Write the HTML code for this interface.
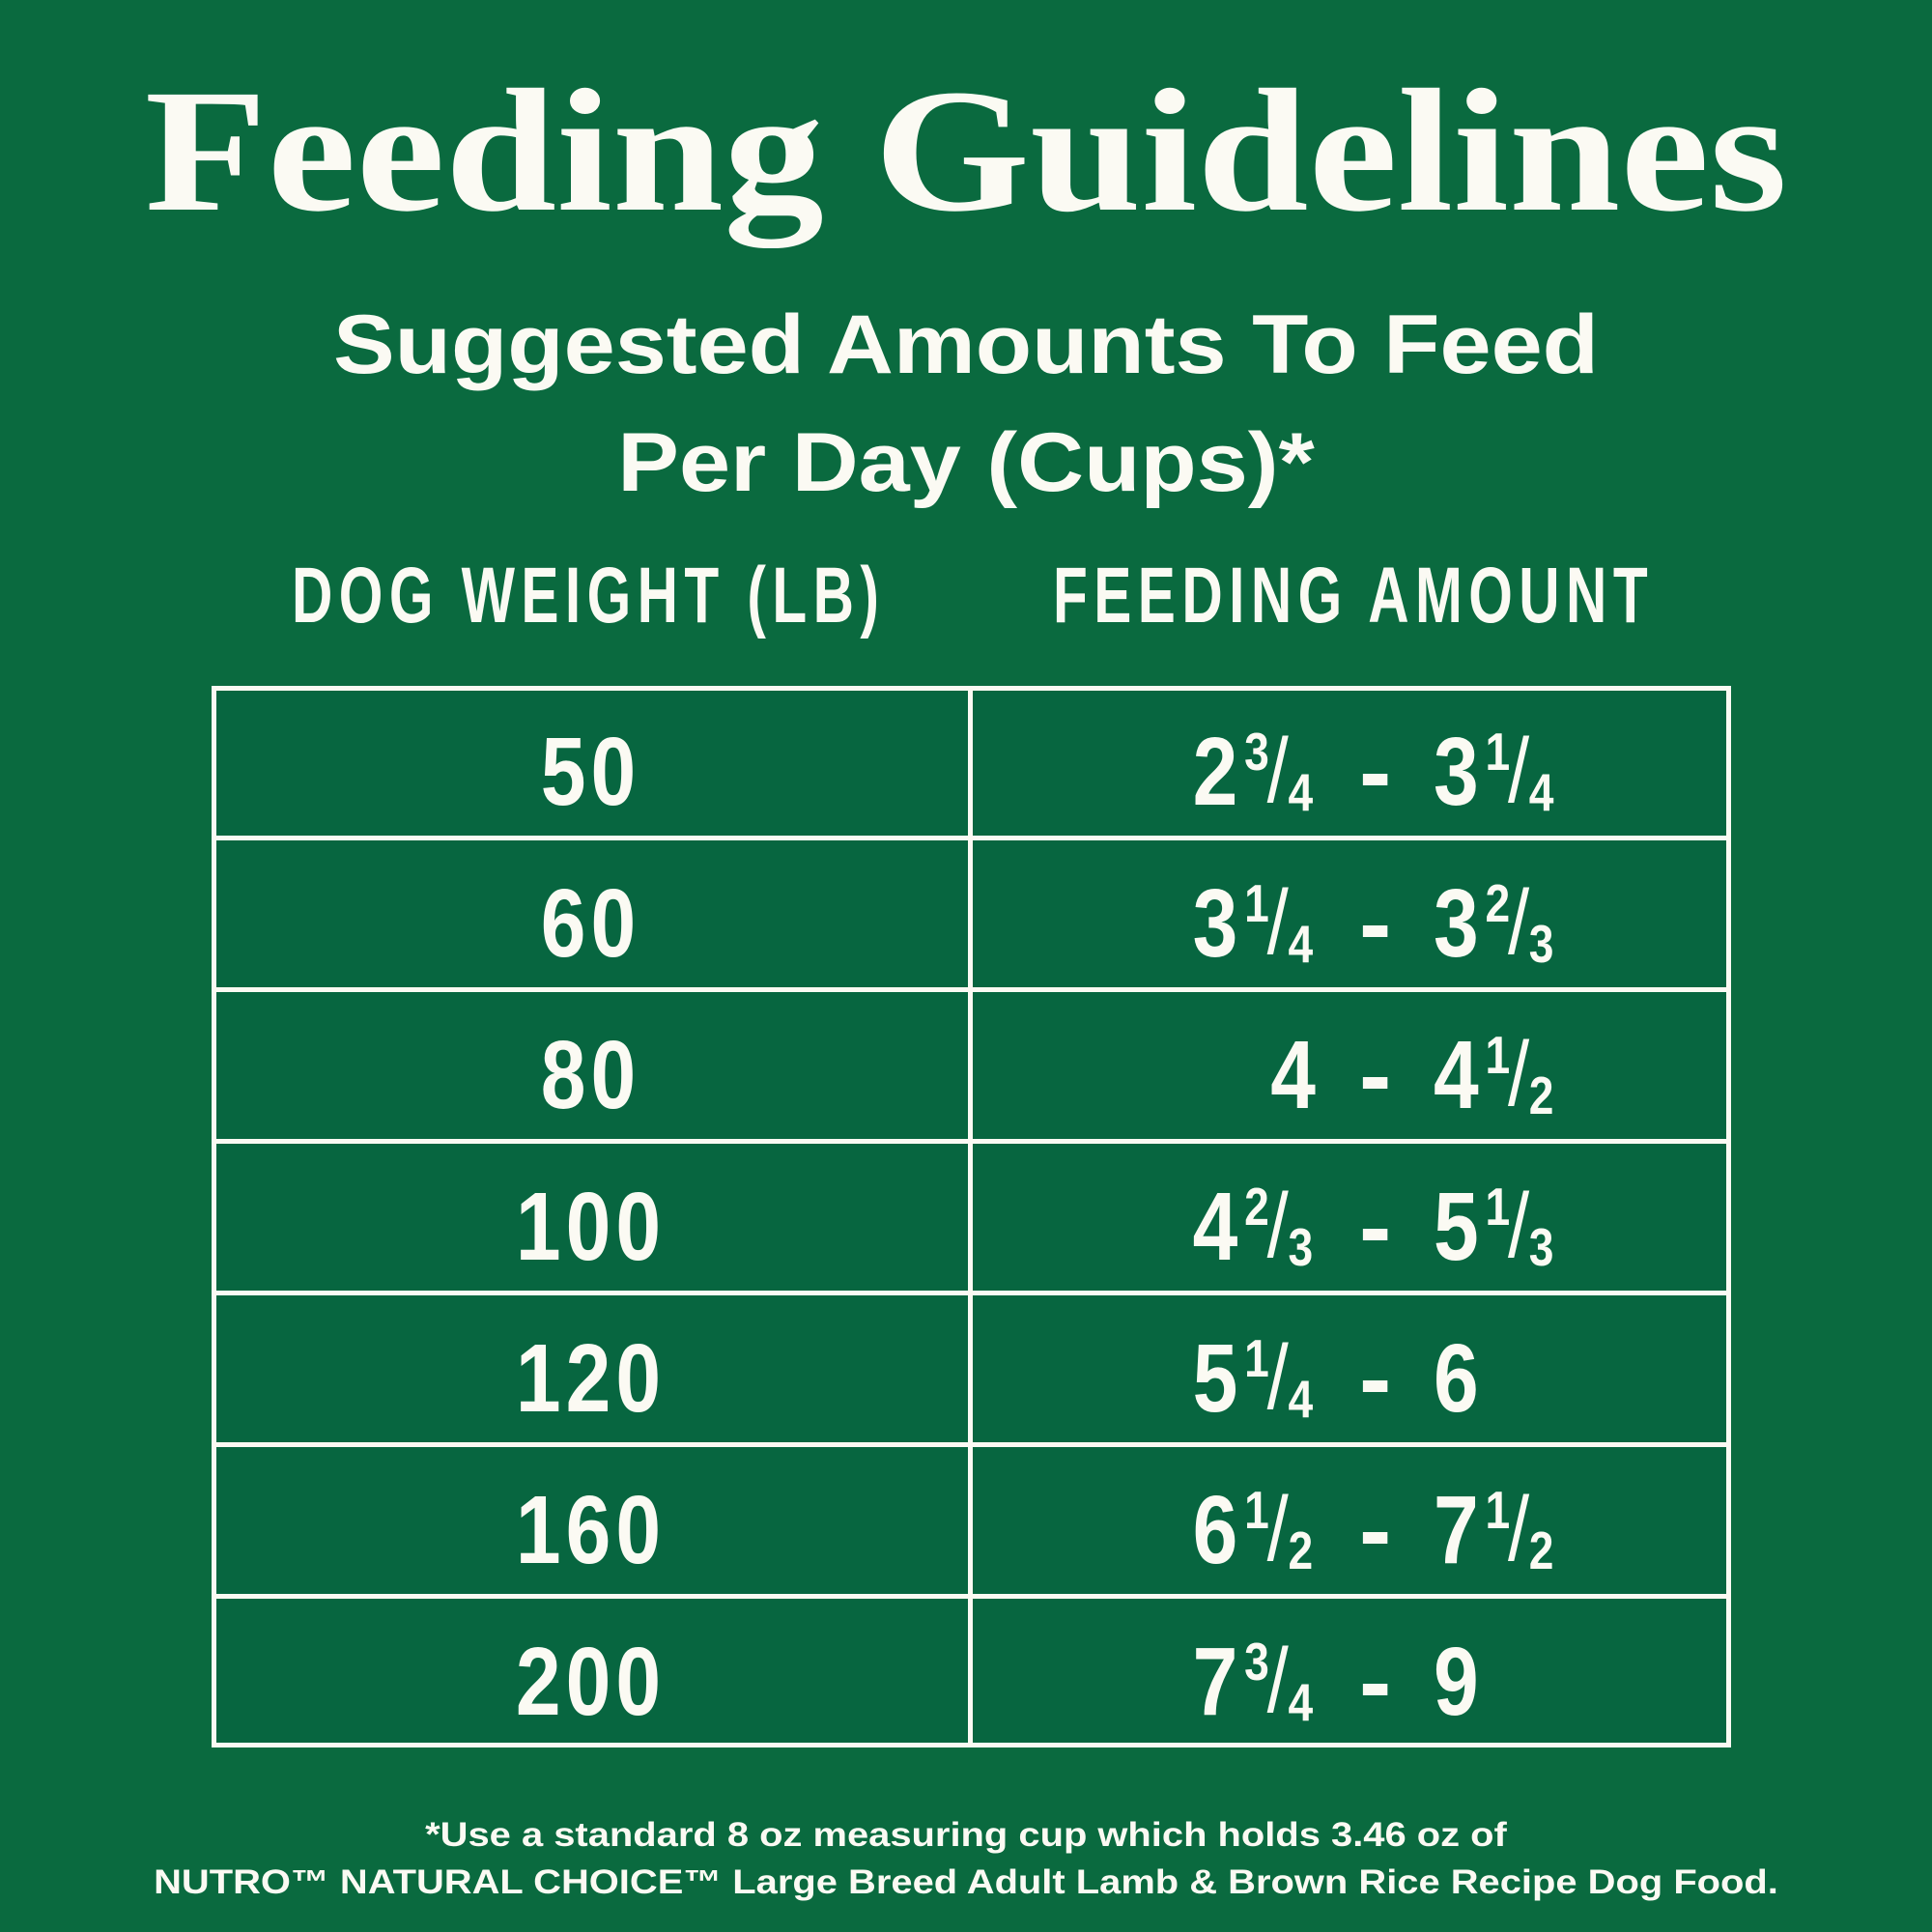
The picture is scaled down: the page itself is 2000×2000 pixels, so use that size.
<!DOCTYPE html>
<html><head><meta charset="utf-8"><style>
body{margin:0;width:2000px;height:2000px;background:#0a6a3f;overflow:hidden;position:relative;color:#fbfaf3}
.t{position:absolute;white-space:nowrap}
#title{left:0;width:2000px;text-align:center;top:52px;font-family:"Liberation Serif",serif;font-weight:bold;font-size:182px;transform:scaleX(1.14);transform-origin:1000px 0}
.sub{left:0;width:2000px;text-align:center;font-family:"Liberation Sans",sans-serif;font-weight:bold;font-size:86px;transform:scaleX(1.11);transform-origin:1000px 0}
.hd{font-family:"Liberation Sans",sans-serif;font-weight:bold;font-size:82px;letter-spacing:9px;top:570px;transform:scaleX(0.715);transform-origin:0 0}
#tbl{position:absolute;left:219px;top:710px;width:1573px;height:1099px;border:5px solid #fbfaf3;box-sizing:border-box;background:#076640}
.hl{position:absolute;left:219px;width:1573px;height:5px;background:#fbfaf3}
#vl{position:absolute;left:1002px;top:710px;width:5px;height:1099px;background:#fbfaf3}
.cell{font-family:"Liberation Sans",sans-serif;font-weight:bold;font-size:100px;line-height:100px}
.w{left:219px;width:785px;text-align:center;letter-spacing:6px;transform:scaleX(0.84);transform-origin:50% 0}
.a1{text-align:right;width:400px;transform:scaleX(0.84);transform-origin:100% 0}
.a2{transform:scaleX(0.84);transform-origin:0 0}
.fr{display:inline-block;position:relative;width:96px;height:100px;vertical-align:top}
.fr .n{position:absolute;left:8px;top:2px;font-size:55px;line-height:55px}
.fr .s{position:absolute;left:36px;top:2px;font-size:95px;line-height:95px;font-weight:normal}
.fr .d{position:absolute;left:62px;top:44px;font-size:55px;line-height:55px}
.foot{left:0;width:2000px;text-align:center;font-family:"Liberation Sans",sans-serif;font-weight:bold;font-size:35px;transform:scaleX(1.14);transform-origin:1000px 0}
</style></head><body>
<div class="t" id="title">Feeding Guidelines</div>
<div class="t sub" style="top:308px">Suggested Amounts To Feed</div>
<div class="t sub" style="top:430px">Per Day (Cups)*</div>
<div class="t hd" style="left:302px">DOG WEIGHT (LB)</div>
<div class="t hd" style="left:1090px">FEEDING AMOUNT</div>
<div id="tbl"></div>
<div id="vl"></div>
<div id="rows"></div>
<div class="t foot" style="top:1880px">*Use a standard 8 oz measuring cup which holds 3.46 oz of</div>
<div class="t foot" style="top:1929px">NUTRO™ NATURAL CHOICE™ Large Breed Adult Lamb &amp; Brown Rice Recipe Dog Food.</div>
<script>
const weights=["50","60","80","100","120","160","200"];
const amounts=[["2 3/4","3 1/4"],["3 1/4","3 2/3"],["4","4 1/2"],["4 2/3","5 1/3"],["5 1/4","6"],["6 1/2","7 1/2"],["7 3/4","9"]];
const top0=710,rh=157;
const root=document.getElementById('rows');
function fmt(v){const p=v.split(' ');let h=p[0];if(p[1]){const f=p[1].split('/');h+='<span class="fr"><span class="n">'+f[0]+'</span><span class="s">/</span><span class="d">'+f[1]+'</span></span>';}return h;}
for(let i=0;i<weights.length;i++){
  if(i>0){const l=document.createElement('div');l.className='hl';l.style.top=(top0+i*rh-2)+'px';
  
  
  root.appendChild(l);}
  const y=top0+i*rh+rh/2-40;
  const w=document.createElement('div');w.className='t cell w';w.style.top=y+'px';w.textContent=weights[i];
  
  
  root.appendChild(w);
  const a=document.createElement('div');a.className='t cell a1';a.style.top=y+'px';a.style.left=(1362-400)+'px';
  a.innerHTML=fmt(amounts[i][0]);
  
  
  root.appendChild(a);
  const d=document.createElement('div');d.className='t cell';d.style.top=y+'px';d.style.left='1407px';d.textContent='-';
  
  
  root.appendChild(d);
  const b=document.createElement('div');b.className='t cell a2';b.style.top=y+'px';b.style.left='1484px';
  b.innerHTML=fmt(amounts[i][1]);
  
  
  root.appendChild(b);
}
</script>
</body></html>
